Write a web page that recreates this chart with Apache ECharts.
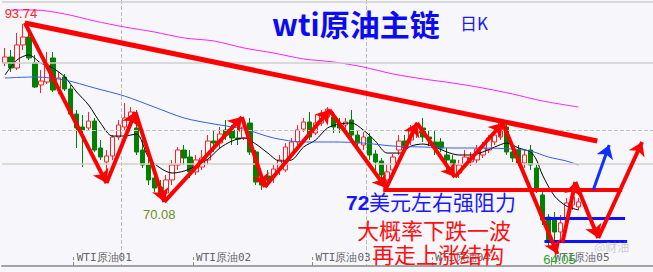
<!DOCTYPE html>
<html><head><meta charset="utf-8">
<script src="https://cdn.jsdelivr.net/npm/echarts@6/dist/echarts.min.js"></script>
<style>html,body{margin:0;padding:0;background:#f6f6fb;overflow:hidden}#c{width:653px;height:272px}</style>
</head><body><div id="c"></div>
<script>
// ---- candle data (daily, WTI) ----
const opens  = [88.55,89.35,87.89,90.95,92.01,88.55,85.63,86.03,89.22,85.23,86.69,85.10,81.77,80.04,79.91,80.84,77.25,75.39,76.19,78.71,
80.04,81.11,79.91,76.98,74.99,73.26,72.06,71.26,73.00,74.99,76.98,76.05,74.07,74.72,75.66,78.18,77.91,79.64,79.64,78.58,
78.58,80.57,76.72,73.26,73.53,73.39,74.33,74.33,76.32,78.05,79.77,80.71,79.24,80.57,81.37,81.37,80.31,80.31,80.97,78.97,
77.65,78.71,76.45,75.52,73.00,74.33,76.98,78.18,78.31,79.24,79.91,78.71,78.05,78.05,76.32,75.66,73.92,75.12,75.39,75.66,
76.32,76.98,78.05,78.71,80.04,76.72,76.98,75.26,76.98,74.59,71.00,68.07,67.94,66.08,67.68,69.67,69.41];
const closes = [89.35,87.89,90.95,92.01,89.22,85.36,86.16,88.29,84.96,86.56,85.10,81.77,79.91,79.64,80.84,76.98,76.05,76.19,78.71,80.31,
81.24,82.04,76.72,74.99,73.00,71.93,71.26,73.00,74.99,76.98,75.92,74.07,75.66,75.92,78.18,77.91,79.11,78.97,78.58,78.44,
80.04,76.72,72.73,72.33,73.00,74.46,75.66,77.38,78.05,79.64,80.71,78.71,80.57,81.90,82.43,80.04,79.91,80.71,78.97,77.91,
78.71,76.32,75.39,73.66,74.07,76.05,78.18,77.25,79.91,80.31,78.71,78.44,77.38,77.25,75.66,74.99,74.99,76.05,76.05,77.11,
77.25,78.58,78.97,80.57,76.72,75.92,75.26,76.32,74.99,71.67,67.68,65.02,66.08,67.28,69.94,70.74,70.08];
const lows   = [88.15,87.36,87.62,90.28,88.95,85.23,84.56,85.76,84.70,84.43,84.83,81.50,77.25,74.72,79.64,76.72,75.66,72.73,75.66,78.31,
79.64,80.71,76.32,74.59,72.33,71.40,70.73,70.08,72.33,74.33,74.99,73.26,73.66,74.33,74.99,76.72,77.25,78.31,77.65,77.65,
78.31,76.32,72.33,71.67,72.06,72.60,73.66,74.07,75.92,77.65,79.37,78.31,78.97,80.17,80.97,79.24,79.24,79.64,78.31,76.98,
76.98,75.66,74.33,73.00,71.93,73.66,76.32,76.72,77.65,78.58,78.05,77.51,76.32,76.72,74.33,73.39,73.26,74.59,74.86,75.26,
75.92,76.58,77.65,78.31,76.32,75.39,74.86,74.59,74.33,71.27,67.01,64.05,65.02,65.02,67.01,69.01,69.01];
const highs  = [90.55,90.28,92.54,93.74,92.94,89.62,87.62,90.02,90.02,87.36,87.09,85.63,82.30,81.64,82.04,81.24,78.31,76.98,78.97,80.97,
83.23,82.70,82.30,78.31,77.25,74.33,73.00,73.66,75.66,77.38,77.65,76.98,76.32,76.98,78.97,79.64,80.04,80.97,80.31,79.91,
81.37,81.24,76.98,73.66,74.33,74.99,76.32,77.91,78.58,80.31,81.24,82.04,81.64,82.30,82.70,82.04,81.24,81.24,82.30,79.64,
79.37,79.24,76.98,75.92,74.99,76.45,78.97,78.97,80.31,80.71,81.24,79.64,79.64,78.58,77.25,76.32,75.66,76.98,76.72,77.65,
78.05,78.97,79.64,80.71,80.57,77.65,77.65,76.98,77.65,74.99,71.67,68.47,68.74,68.34,70.61,71.40,70.61];

// ---- moving averages: [day index, price] ----
const maShort = [[0,86.96],[2,88.95],[4,89.62],[6,88.55],[8,87.89],[10,86.69],[12,84.70],[14,82.97],[16,80.57],[18,78.84],[20,78.84],
[22,79.11],[24,76.05],[26,74.59],[28,73.92],[30,74.19],[32,74.86],[34,75.79],[36,77.25],[38,78.18],[40,78.58],[42,77.78],[44,76.58],
[46,75.52],[48,75.66],[50,77.38],[52,78.31],[54,79.91],[56,80.44],[58,80.57],[60,79.64],[62,78.18],[64,76.58],[66,76.58],[68,77.51],
[70,77.78],[72,77.38],[74,76.72],[76,76.32],[78,76.32],[80,76.72],[82,77.38],[84,77.91],[86,77.25],[88,76.72],[89,75.66],[90,73.66],
[92,70.87],[94,69.54],[96,69.01]];
const maMid = [[0,86.56],[5,86.69],[10,86.29],[15,85.23],[20,84.16],[25,82.70],[30,81.24],[35,80.44],[40,79.77],[45,78.58],[50,78.05],
[55,78.05],[60,77.91],[65,77.51],[70,77.38],[75,77.25],[80,77.25],[85,77.11],[88,76.85],[91,76.05],[94,75.52],[96,74.99]];
const maLong = [[1,95.60],[5,95.60],[10,95.07],[15,94.14],[20,93.34],[25,92.68],[30,91.88],[35,91.48],[40,90.55],[45,89.88],[50,89.09],
[55,88.69],[60,88.02],[65,87.09],[70,86.43],[75,85.89],[80,85.23],[85,84.43],[90,83.50],[96,82.70]];

// ---- axis ----
const slotCount = 109;
const monthStarts = [12, 32, 52, 72, 92];
const monthLabels = ['WTI原油01','WTI原油02','WTI原油03','WTI原油04','WTI原油05'];
const sepDays = [20, 61];
const guideSolid = [96.67, 88.55];
const guideDashed = [79.64];
const guideBeige = [75.12];

// ---- hand-drawn analysis (day index, price) ----
const zigX = [-0.83, 3.33, 17, 21.83, 26.67, 39.67, 43.5, 54.33, 63.83, 69, 75.33, 83.33, 92.5];
const zigY = [89.88, 93.9, 72.59, 82.04, 70.08, 81.37, 72.06, 82.30, 71.93, 80.57, 73.39, 80.57, 63.15];
const projX = [93.33, 95.5, 99.33, 106.67];
const projY = [64.62, 72.73, 65.28, 78.05];
const blueArrow = [[98.5, 71.67], [101.17, 77.65]];
const channelTop = [[3.33, 93.87], [99.17, 78.18]];
const channelBottom = [[-0.83, 72.73], [100.83, 61.43]];
const resistance = [[63.33, 71.75], [103.33, 71.75]];
const support1 = [[90, 67.94], [103.83, 67.94]];
const support2 = [[90.33, 64.88], [104.17, 64.88]];

const days = Array.from({length: slotCount}, (_, i) => String(i));
const candles = opens.map((o, i) => [o, closes[i], lows[i], highs[i]]);
const peakIdx = highs.indexOf(Math.max(...highs));
const troughIdx = lows.indexOf(Math.min(...lows));
const localLowIdx = 27;

function segs(xs, ys) {
  const out = [];
  for (let i = 0; i < xs.length - 1; i++) out.push([{coord: [xs[i], ys[i]]}, {coord: [xs[i+1], ys[i+1]]}]);
  return out;
}
function pair(p) { return [{coord: p[0]}, {coord: p[1]}]; }
function annot(data, color, width, arrow) {
  return {
    type: 'line', xAxisIndex: 1, yAxisIndex: 0, data: [], z: 6, silent: true,
    markLine: {
      silent: true, animation: false,
      symbol: arrow ? ['none', 'arrow'] : ['none', 'none'], symbolSize: 13,
      label: {show: false},
      lineStyle: {color: color, width: width, type: 'solid'},
      emphasis: {disabled: true},
      data: data
    }
  };
}
const cjk = '"Noto Sans CJK SC", sans-serif';

const chart = echarts.init(document.getElementById('c'), null, {renderer: 'svg'});
chart.setOption({
  animation: false,
  backgroundColor: '#f6f6fb',
  grid: {left: 2, right: -3, top: 0, bottom: 6},
  xAxis: [{
    type: 'category', data: days, boundaryGap: true,
    axisLine: {show: true, lineStyle: {color: '#a4a4a4', width: 2}},
    axisTick: {show: true, inside: true, length: 9, interval: (i) => monthStarts.includes(i),
      lineStyle: {color: '#8c8c8c', type: 'dashed'}},
    axisLabel: {show: true, inside: true, margin: 3, align: 'left',
      interval: (i) => monthStarts.includes(i),
      formatter: (v, i) => monthLabels[monthStarts.indexOf(i)] || '',
      color: '#666', fontSize: 11, fontFamily: '"DejaVu Sans Mono", monospace'},
    splitLine: {show: true, interval: (i) => sepDays.includes(i), lineStyle: {color: '#bdbdbd', type: 'dashed'}}
  }, {
    type: 'value', min: -0.5, max: 108.5, show: false
  }],
  yAxis: {type: 'value', min: 61.56, max: 96.93, show: false, splitLine: {show: false}},
  graphic: [
    {type: 'text', left: 272, top: 8, z: 20, style: {text: 'wti原油主链', font: 'bold 30px ' + cjk, fill: '#0a0af5',
      textShadowColor: 'rgba(70,70,190,0.55)', textShadowOffsetX: 2, textShadowOffsetY: 2}},
    {type: 'text', left: 460, top: 14, z: 20, style: {text: '日K', font: '17px ' + cjk, fill: '#1a1aff'}},
    {type: 'text', left: 346, top: 192, z: 20, style: {text: '72', font: 'bold 21px "Liberation Sans", Arial', fill: '#1414ff'}},
    {type: 'text', left: 369, top: 190, z: 20, style: {text: '美元左右强阻力', font: '21px ' + cjk, fill: '#1a1aff'}},
    {type: 'text', left: 357, top: 218, z: 20, style: {text: '大概率下跌一波', font: '22px ' + cjk, fill: '#ff1010'}},
    {type: 'text', left: 372, top: 242, z: 20, style: {text: '再走上涨结构', font: '22px ' + cjk, fill: '#ff1010'}},
    {type: 'text', left: 594, top: 240, z: 20, style: {text: '@财油', font: '12px ' + cjk, fill: 'rgba(150,150,150,0.45)'}}
  ],
  series: [
    {
      type: 'line', xAxisIndex: 1, data: [], silent: true, z: 1,
      markLine: {silent: true, symbol: ['none','none'], label: {show: false}, emphasis: {disabled: true},
        data: [
          ...guideSolid.map(v => ({yAxis: v, lineStyle: {color: '#cfcfcf', width: 1.5, type: 'solid'}})),
          ...guideDashed.map(v => ({yAxis: v, lineStyle: {color: '#c4c4c4', width: 1, type: 'dashed'}})),
          ...guideBeige.map(v => ({yAxis: v, lineStyle: {color: '#d6cfc6', width: 1.5, type: 'solid'}}))
        ]}
    },
    {
      type: 'candlestick', data: candles, barWidth: 5, z: 3,
      itemStyle: {color: '#f6f6fb', color0: '#008200', borderColor: '#ff2222', borderColor0: '#008200', borderWidth: 1},
      markPoint: {
        symbol: 'circle', symbolSize: 1, itemStyle: {color: 'rgba(0,0,0,0)'}, silent: true,
        label: {show: true, position: 'inside', fontSize: 13, fontFamily: '"Liberation Sans", Arial',
          formatter: (p) => Number(p.value).toFixed(2)},
        data: [
          {coord: [peakIdx, highs[peakIdx]], value: highs[peakIdx], label: {offset: [-2, -10], color: '#ff2222'}},
          {coord: [localLowIdx, lows[localLowIdx]], value: lows[localLowIdx], label: {offset: [-7, 13], color: '#6a8f1a'}},
          {coord: [troughIdx, lows[troughIdx]], value: lows[troughIdx], label: {offset: [11, 12], color: '#2aa52a'}}
        ]
      }
    },
    {type: 'line', xAxisIndex: 1, data: maShort, showSymbol: false, smooth: 0.3, z: 4, silent: true, lineStyle: {color: '#000', width: 1}},
    {type: 'line', xAxisIndex: 1, data: maMid, showSymbol: false, smooth: 0.3, z: 4, silent: true, lineStyle: {color: '#3a5ee0', width: 1}},
    {type: 'line', xAxisIndex: 1, data: maLong, showSymbol: false, smooth: 0.3, z: 4, silent: true, lineStyle: {color: '#ff20ff', width: 1}},
    annot([pair(channelTop), pair(channelBottom)], '#ff0000', 5, false),
    annot([pair(resistance)], '#ff0000', 4, false),
    annot([pair(support1), pair(support2)], '#1010ff', 3, false),
    annot(segs(zigX, zigY).concat(segs(projX, projY)), '#ff0000', 4, true),
    annot([pair(blueArrow)], '#1030ff', 3, true)
  ]
});
</script>
</body></html>
